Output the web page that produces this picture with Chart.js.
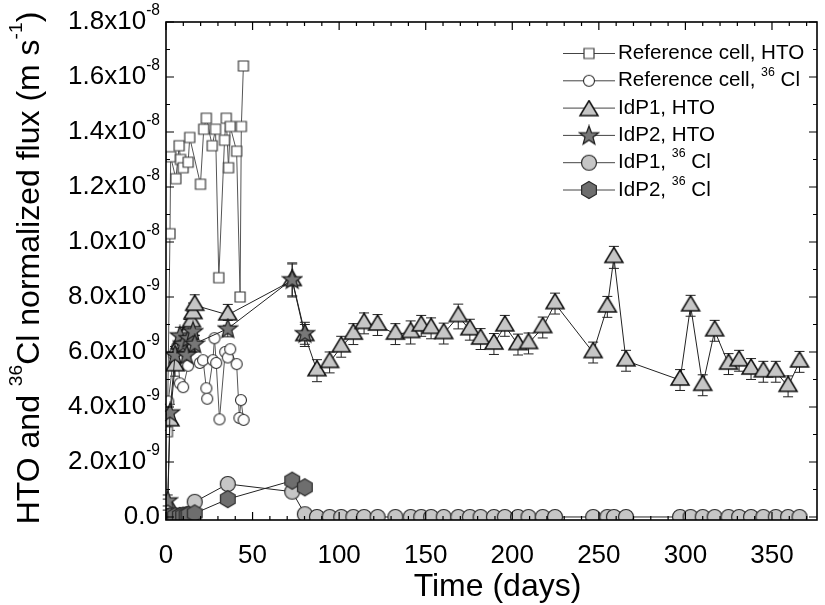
<!DOCTYPE html>
<html>
<head>
<meta charset="utf-8">
<script src="https://cdn.jsdelivr.net/npm/chart.js@4"></script>
<style>
  html, body { margin: 0; padding: 0; background: #fff; }
  canvas { display: block; }
</style>
</head>
<body>
<canvas id="fluxChart" width="825" height="605"></canvas>
<script>
// values, flux in units of 1e-9 m/s
const UNIT = 1e-9;

const refHtoDays = [0.8, 2.3, 2.7, 5.7, 7.6, 8.4, 9.9, 12.8, 13.7, 19.9, 21.8, 23.3, 26.7, 28.6, 30.5, 33.8, 34.8, 36.1, 37.1, 40.8, 42.8, 43.5, 44.7];
const refHtoFlux = [3.1, 10.3, 13.1, 12.3, 13.5, 13.0, 12.7, 12.9, 13.8, 12.1, 14.1, 14.5, 13.5, 14.1, 8.7, 13.7, 14.5, 12.7, 14.2, 13.3, 8.0, 14.2, 16.4];

const refClDays = [1.3, 4.5, 6.5, 8.0, 9.9, 12.8, 19.5, 21.4, 23.3, 23.8, 27.1, 28.0, 29.0, 30.9, 34.2, 35.7, 37.1, 40.8, 42.4, 43.3, 44.8];
const refClFlux = [4.2, 5.9, 6.2, 4.86, 4.72, 5.5, 5.6, 5.7, 4.68, 4.3, 5.7, 6.5, 5.6, 3.55, 6.0, 5.8, 6.1, 5.56, 3.6, 4.25, 3.53];

const idp1HtoDays = [1.0, 2.3, 5.2, 8.0, 9.9, 11.9, 13.0, 14.7, 15.6, 16.6, 35.7, 72.9, 80.2, 87.2, 94.5, 101.2, 108.2, 114.4, 122.2, 132.5, 141.3, 147.4, 153.1, 160.4, 168.8, 175.5, 181.7, 189.4, 195.7, 203.3, 209.4, 217.6, 224.7, 246.7, 254.9, 258.7, 265.7, 296.9, 303.0, 310.0, 316.9, 324.9, 331.0, 337.9, 345.0, 352.2, 359.3, 365.9];
const idp1HtoFlux = [0.45, 3.5, 5.5, 6.3, 6.5, 6.2, 6.8, 7.1, 7.4, 7.7, 7.35, 8.6, 6.6, 5.32, 5.62, 6.19, 6.65, 7.04, 6.98, 6.65, 6.71, 6.95, 6.86, 6.67, 7.29, 6.81, 6.47, 6.29, 6.95, 6.27, 6.31, 6.89, 7.76, 5.98, 7.64, 9.44, 5.68, 4.98, 7.68, 4.79, 6.77, 5.56, 5.68, 5.38, 5.28, 5.28, 4.75, 5.64];
const idp1HtoErr = [0.2, 0.35, 0.38, 0.38, 0.38, 0.38, 0.38, 0.38, 0.38, 0.38, 0.38, 0.6, 0.4, 0.4, 0.38, 0.38, 0.38, 0.38, 0.38, 0.38, 0.42, 0.38, 0.38, 0.38, 0.45, 0.38, 0.38, 0.38, 0.38, 0.38, 0.38, 0.38, 0.38, 0.38, 0.38, 0.4, 0.38, 0.38, 0.38, 0.38, 0.38, 0.38, 0.38, 0.38, 0.38, 0.38, 0.38, 0.38];

const idp2HtoDays = [1.0, 2.3, 5.2, 8.0, 9.9, 11.9, 13.0, 15.6, 16.6, 35.7, 72.9, 80.2];
const idp2HtoFlux = [0.6, 3.8, 5.9, 6.6, 6.3, 5.9, 6.5, 6.75, 6.3, 6.85, 8.64, 6.68];
const idp2HtoErr = [0.2, 0.3, 0.3, 0.3, 0.3, 0.3, 0.3, 0.3, 0.3, 0.3, 0.6, 0.4];

const idp1ClDays = [1.0, 2.3, 5.2, 8.0, 9.9, 11.9, 13.0, 16.6, 35.7, 72.9, 80.2, 87.2, 94.5, 101.2, 108.2, 114.4, 122.2, 132.5, 141.3, 147.4, 153.1, 160.4, 168.8, 175.5, 181.7, 189.4, 195.7, 203.3, 209.4, 217.6, 224.7, 246.7, 254.9, 258.7, 265.7, 296.9, 303.0, 310.0, 316.9, 324.9, 331.0, 337.9, 345.0, 352.2, 359.3, 365.9];
const idp1ClFlux = [0.02, 0.03, 0.05, 0.05, 0.06, 0.08, 0.1, 0.55, 1.2, 0.92, 0.1, 0, 0, 0, 0, 0, 0, 0, 0, 0, 0, 0, 0, 0, 0, 0, 0, 0, 0, 0, 0, 0, 0, 0, 0, 0, 0, 0, 0, 0, 0, 0, 0, 0, 0, 0];

const idp2ClDays = [1.0, 2.3, 5.2, 8.0, 9.9, 11.9, 13.0, 16.6, 35.7, 72.9, 80.2];
const idp2ClFlux = [0.0, 0.02, 0.03, 0.04, 0.05, 0.06, 0.08, 0.13, 0.65, 1.32, 1.08];

const seriesLabels = ['Reference cell, HTO', 'Reference cell, ^{36} Cl', 'IdP1, HTO', 'IdP2, HTO', 'IdP1, ^{36} Cl', 'IdP2, ^{36} Cl'];

const xTicks = [0, 50, 100, 150, 200, 250, 300, 350];
const yTicks = [0, 2e-9, 4e-9, 6e-9, 8e-9, 1e-8, 1.2e-8, 1.4e-8, 1.6e-8, 1.8e-8];
const yTickLabels = ['0.0', '2.0x10^{-9}', '4.0x10^{-9}', '6.0x10^{-9}', '8.0x10^{-9}', '1.0x10^{-8}', '1.2x10^{-8}', '1.4x10^{-8}', '1.6x10^{-8}', '1.8x10^{-8}'];

const FONT = '"Liberation Sans", Arial, sans-serif';

// marker images, Origin style (image centre = data point)
function marker(shape, fill, stroke, lw) {
  const c = document.createElement('canvas');
  c.width = 22; c.height = 22;
  const g = c.getContext('2d');
  const m = 11;
  g.beginPath();
  if (shape === 'square') {
    g.rect(m - 5, m - 5, 10, 10);
  } else if (shape === 'smallCircle') {
    g.arc(m, m, 5.5, 0, Math.PI * 2);
  } else if (shape === 'circle') {
    g.arc(m, m, 7.5, 0, Math.PI * 2);
  } else if (shape === 'triangle') {
    g.moveTo(m, m - 10); g.lineTo(m + 9, m + 5); g.lineTo(m - 9, m + 5); g.closePath();
  } else if (shape === 'star') {
    for (let i = 0; i < 10; i++) {
      const r = i % 2 ? 4.2 : 10;
      const a = -Math.PI / 2 + i * Math.PI / 5;
      g.lineTo(m + r * Math.cos(a), m + 0.5 + r * Math.sin(a));
    }
    g.closePath();
  } else if (shape === 'hexagon') {
    for (let i = 0; i < 6; i++) {
      const a = -Math.PI / 2 + i * Math.PI / 3;
      g.lineTo(m + 8.5 * Math.cos(a), m + 8.5 * Math.sin(a));
    }
    g.closePath();
  }
  g.fillStyle = fill; g.fill();
  g.lineWidth = lw; g.strokeStyle = stroke; g.stroke();
  return c;
}

const markers = [
  marker('square', '#fff', '#3a3a3a', 1.2),
  marker('smallCircle', '#fff', '#2a2a2a', 1.1),
  marker('triangle', '#c6c6c6', '#111', 1.5),
  marker('star', '#777', '#1a1a1a', 1.2),
  marker('circle', '#c6c6c6', '#2a2a2a', 1.2),
  marker('hexagon', '#6e6e6e', '#2a2a2a', 1.2)
];

function pts(days, flux) {
  return days.map((d, i) => ({ x: d, y: flux[i] * UNIT }));
}

function makeSet(i, days, flux, lineColor, order, err) {
  return {
    label: seriesLabels[i],
    data: pts(days, flux),
    errors: err ? err.map(e => e * UNIT) : null,
    showLine: true,
    borderColor: lineColor,
    borderWidth: 1,
    tension: 0,
    pointStyle: markers[i],
    pointRadius: 7,
    pointHoverRadius: 7,
    order: order
  };
}

function richParts(str) {
  const parts = [];
  const re = /\^\{([^}]*)\}/g;
  let last = 0, m;
  while ((m = re.exec(str))) {
    if (m.index > last) parts.push({ t: str.slice(last, m.index), sup: false });
    parts.push({ t: m[1], sup: true });
    last = re.lastIndex;
  }
  if (last < str.length) parts.push({ t: str.slice(last), sup: false });
  return parts;
}

function drawRich(ctx, str, x, y, size, align) {
  const parts = richParts(str);
  const supSize = size * 0.6;
  let w = 0;
  parts.forEach(p => {
    ctx.font = (p.sup ? supSize : size) + 'px ' + FONT;
    p.w = ctx.measureText(p.t).width;
    w += p.w;
  });
  let cx = align === 'right' ? x - w : align === 'center' ? x - w / 2 : x;
  ctx.textAlign = 'left';
  ctx.textBaseline = 'middle';
  parts.forEach(p => {
    ctx.font = (p.sup ? supSize : size) + 'px ' + FONT;
    ctx.fillText(p.t, cx, p.sup ? y - size * 0.42 : y);
    cx += p.w;
  });
}

const errorBars = {
  id: 'errorBars',
  beforeDatasetsDraw(chart) {
    const ctx = chart.ctx;
    const ys = chart.scales.y;
    ctx.save();
    ctx.strokeStyle = '#222';
    ctx.lineWidth = 1;
    chart.data.datasets.forEach((ds, i) => {
      if (!ds.errors) return;
      const meta = chart.getDatasetMeta(i);
      meta.data.forEach((p, j) => {
        const v = ds.data[j].y, e = ds.errors[j];
        const y1 = ys.getPixelForValue(v - e), y2 = ys.getPixelForValue(v + e);
        ctx.beginPath();
        ctx.moveTo(p.x, y1); ctx.lineTo(p.x, y2);
        ctx.moveTo(p.x - 5, y1); ctx.lineTo(p.x + 5, y1);
        ctx.moveTo(p.x - 5, y2); ctx.lineTo(p.x + 5, y2);
        ctx.stroke();
      });
    });
    ctx.restore();
  }
};

const frame = {
  id: 'frame',
  afterDraw(chart) {
    const ctx = chart.ctx;
    const a = chart.chartArea;
    const xs = chart.scales.x, ys = chart.scales.y;
    ctx.save();
    ctx.strokeStyle = '#000';
    ctx.lineWidth = 1.6;
    ctx.strokeRect(a.left, a.top, a.right - a.left, a.bottom - a.top);

    ctx.lineWidth = 1.2;
    ctx.beginPath();
    for (let d = 0; d <= xs.max; d += 10) {
      const px = xs.getPixelForValue(d);
      const len = d % 50 === 0 ? 8 : 4;
      ctx.moveTo(px, a.bottom); ctx.lineTo(px, a.bottom - len);
      ctx.moveTo(px, a.top); ctx.lineTo(px, a.top + len);
    }
    for (let k = 0; k <= 18; k++) {
      const py = ys.getPixelForValue(k * 1e-9);
      const len = k % 2 === 0 ? 8 : 4;
      ctx.moveTo(a.left, py); ctx.lineTo(a.left + len, py);
      ctx.moveTo(a.right, py); ctx.lineTo(a.right - len, py);
    }
    ctx.stroke();

    ctx.fillStyle = '#000';
    xTicks.forEach(d => drawRich(ctx, String(d), xs.getPixelForValue(d), a.bottom + 36, 26, 'center'));
    yTicks.forEach((v, i) => drawRich(ctx, yTickLabels[i], a.left - 6, ys.getPixelForValue(v), 26, 'right'));

    drawRich(ctx, 'Time (days)', (a.left + a.right) / 2 + 6, 587, 32, 'center');

    ctx.save();
    ctx.translate(30, 268);
    ctx.rotate(-Math.PI / 2);
    drawRich(ctx, 'HTO and ^{36}Cl normalized flux (m s^{-1})', 0, 0, 32, 'center');
    ctx.restore();

    // legend
    chart.data.datasets.forEach((ds, i) => {
      const y = 53.5 + i * 27.3;
      ctx.strokeStyle = '#444';
      ctx.lineWidth = 1;
      ctx.beginPath();
      ctx.moveTo(563, y); ctx.lineTo(615, y);
      ctx.stroke();
      const img = ds.pointStyle;
      ctx.drawImage(img, 589 - img.width / 2, y - img.height / 2 + (i === 2 ? 2.5 : 0));
      ctx.fillStyle = '#000';
      drawRich(ctx, ds.label, 618, y, 20.6, 'left');
    });
    ctx.restore();
  }
};

new Chart(document.getElementById('fluxChart'), {
  type: 'scatter',
  data: {
    datasets: [
      makeSet(0, refHtoDays, refHtoFlux, '#555', 6),
      makeSet(1, refClDays, refClFlux, '#555', 5),
      makeSet(2, idp1HtoDays, idp1HtoFlux, '#222', 4, idp1HtoErr),
      makeSet(3, idp2HtoDays, idp2HtoFlux, '#222', 3, idp2HtoErr),
      makeSet(4, idp1ClDays, idp1ClFlux, '#222', 2),
      makeSet(5, idp2ClDays, idp2ClFlux, '#222', 1)
    ]
  },
  options: {
    responsive: false,
    animation: false,
    layout: { padding: { top: 22, right: 3, left: 0, bottom: 0 } },
    plugins: { legend: { display: false }, tooltip: { enabled: false } },
    scales: {
      x: {
        type: 'linear', min: 0, max: 376,
        grid: { display: false }, border: { display: false },
        ticks: { display: false },
        afterFit(s) { s.height = 85; }
      },
      y: {
        type: 'linear', min: -1.1e-10, max: 1.8e-8,
        grid: { display: false }, border: { display: false },
        ticks: { display: false },
        afterFit(s) { s.width = 166; }
      }
    }
  },
  plugins: [errorBars, frame]
});
</script>
</body>
</html>
